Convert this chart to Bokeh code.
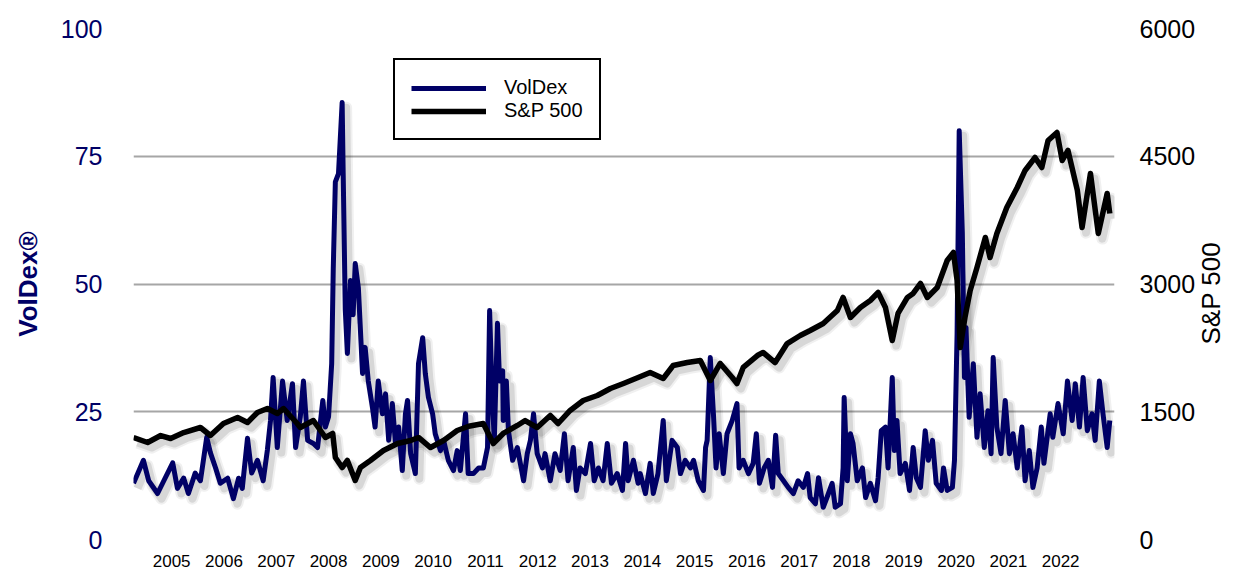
import numpy as np
from bokeh.plotting import figure
from bokeh.models import Range1d, LinearAxis, FixedTicker, Legend, LegendItem
from bokeh.embed import file_html
from bokeh.resources import INLINE

# ---------------- data ----------------
year_ticks = list(range(2005, 2023))
voldex_ticks = [0, 25, 50, 75, 100]
sp_ticks = [0, 1500, 3000, 4500, 6000]

voldex_t = [
    2004.27, 2004.46, 2004.56, 2004.73, 2004.85,
    2005.02, 2005.11, 2005.23, 2005.32, 2005.45, 2005.55, 2005.67, 2005.74, 2005.84, 2005.93,
    2006.07, 2006.18, 2006.28, 2006.35, 2006.45, 2006.53, 2006.64, 2006.75, 2006.83, 2006.89, 2006.94,
    2007.02, 2007.12, 2007.21, 2007.31, 2007.37, 2007.46, 2007.52, 2007.60, 2007.71, 2007.79, 2007.89, 2007.94,
    2008.00, 2008.06, 2008.09, 2008.13, 2008.19, 2008.26, 2008.28, 2008.32, 2008.36, 2008.42, 2008.47, 2008.51,
    2008.57, 2008.65, 2008.70, 2008.76, 2008.84, 2008.89, 2008.95,
    2009.03, 2009.09, 2009.15, 2009.22, 2009.28, 2009.34, 2009.41, 2009.47, 2009.51, 2009.57, 2009.66, 2009.72,
    2009.80, 2009.85, 2009.91, 2009.99,
    2010.04, 2010.14, 2010.20, 2010.29, 2010.39, 2010.46, 2010.52, 2010.62, 2010.67, 2010.77, 2010.87, 2010.96,
    2011.04, 2011.08, 2011.13, 2011.17, 2011.23, 2011.27, 2011.33, 2011.34, 2011.40, 2011.44, 2011.52, 2011.61,
    2011.73, 2011.80, 2011.86, 2011.92, 2011.99,
    2012.09, 2012.14, 2012.24, 2012.33, 2012.43, 2012.51, 2012.58, 2012.68, 2012.74, 2012.81, 2012.91,
    2013.01, 2013.08, 2013.16, 2013.25, 2013.33, 2013.41, 2013.52, 2013.62, 2013.68, 2013.73, 2013.83, 2013.92, 2013.96,
    2014.06, 2014.15, 2014.21, 2014.30, 2014.40, 2014.46, 2014.57, 2014.67, 2014.73, 2014.82, 2014.92, 2014.98,
    2015.07, 2015.17, 2015.21, 2015.24, 2015.30, 2015.36, 2015.41, 2015.47, 2015.55, 2015.62, 2015.72, 2015.81,
    2015.85, 2015.93,
    2016.03, 2016.12, 2016.18, 2016.24, 2016.33, 2016.41, 2016.49, 2016.55, 2016.60, 2016.70, 2016.79, 2016.89, 2016.98,
    2017.08, 2017.16, 2017.21, 2017.31, 2017.37, 2017.46, 2017.56, 2017.63, 2017.69, 2017.79, 2017.84, 2017.86,
    2017.92, 2017.98,
    2018.03, 2018.11, 2018.21, 2018.27, 2018.36, 2018.46, 2018.51, 2018.57, 2018.65, 2018.70, 2018.78, 2018.82,
    2018.87, 2018.93,
    2019.03, 2019.11, 2019.18, 2019.24, 2019.32, 2019.41, 2019.47, 2019.55, 2019.62, 2019.72, 2019.76, 2019.83,
    2019.93, 2019.97,
    2020.02, 2020.06, 2020.12, 2020.16, 2020.19, 2020.25, 2020.33, 2020.40, 2020.46, 2020.54, 2020.61, 2020.67,
    2020.71, 2020.78, 2020.86, 2020.94,
    2021.02, 2021.09, 2021.17, 2021.26, 2021.32, 2021.40, 2021.47, 2021.55, 2021.63, 2021.68, 2021.80, 2021.85, 2021.95,
    2022.05, 2022.13, 2022.22, 2022.28, 2022.36, 2022.43, 2022.51, 2022.60, 2022.66, 2022.74, 2022.81, 2022.89, 2022.94,
]
voldex_v = [
    11, 15.5, 11.5, 9, 11.5,
    15, 10, 12, 9, 13, 11.5, 20, 17, 14, 11,
    12, 8, 12, 10, 19.8, 13, 15.5, 11.5, 17.5, 23.3, 31.7,
    18, 31, 23.3, 30.5, 18, 24, 31, 19.4, 18.8, 18, 27.2, 22,
    24, 34.4, 53, 70, 71.6, 85.5, 71.6, 45, 36.4, 50.7, 44, 54,
    49.3, 32.5, 37.6, 31, 25.8, 22, 31,
    24.6, 28.5, 19.4, 26.6, 18.8, 22, 13.5, 24.6, 27.2, 16.8, 12.9, 34.4,
    39.5, 32.5, 27.8, 24.6,
    20.7, 17.4, 19.4, 15.5, 13.5, 17.4, 13.5, 24.6, 12.9, 12.9, 14, 14,
    18, 44.8, 27.8, 19.4, 42.3, 31, 33, 23.3, 31, 21.3, 15.5, 18,
    11.5, 16.8, 19.4, 24.6, 16.8,
    14, 16.8, 11.5, 16.8, 13.5, 20.7, 11.5, 18, 9.6, 14, 12.9,
    18.8, 11.5, 14, 11.5, 18.8, 11, 12.9, 9.6, 18.8, 11.5, 15.5, 11, 12.9,
    9, 14.9, 9, 12.9, 23.3, 11.5, 19.4, 18, 12.9, 15.5, 14, 15.5,
    11.5, 9.6, 18, 19.4, 35.6, 24.6, 14, 20.7, 12.9, 20.7, 23.3, 26.6,
    14, 15.5,
    12.9, 14.9, 20.7, 11, 14, 15.5, 10.2, 20.4, 12.9, 11.5, 10.2, 9, 11.5,
    10.2, 12.9, 8.2, 7, 12.1, 6.3, 9, 11, 6.3, 7, 14, 27.8,
    11.5, 20.7,
    18.8, 11.5, 14, 8.2, 11, 7.6, 12.1, 21.3, 22, 14, 31.7, 17.4,
    23.3, 12.9,
    14.9, 9.6, 18, 12.1, 10.2, 21.3, 15.5, 19.4, 11, 9.6, 14, 9.6,
    10.2, 15.5,
    40.3, 80, 59.9, 31.7, 41.5, 23.9, 34.4, 20, 28.5, 18, 25.2, 16.8,
    35.6, 22, 16.8, 27.2,
    16.8, 20.7, 14, 22, 11.5, 17.4, 10.2, 14, 22, 14.9, 24.6, 20, 26.6,
    20.7, 31, 23.3, 30.5, 22, 31.7, 21.3, 24.6, 19.4, 31, 24.6, 18, 23.3,
]

sp_t = [
    2004.27, 2004.54, 2004.79, 2004.98, 2005.23, 2005.55, 2005.74, 2005.99, 2006.26, 2006.45,
    2006.64, 2006.83, 2007.02, 2007.14, 2007.40, 2007.46, 2007.71, 2007.94, 2008.08, 2008.13,
    2008.26, 2008.36, 2008.51, 2008.61, 2008.80, 2009.05, 2009.32, 2009.57, 2009.72, 2009.95,
    2010.20, 2010.46, 2010.68, 2010.96, 2011.15, 2011.34, 2011.61, 2011.76, 2011.99, 2012.24,
    2012.39, 2012.62, 2012.87, 2013.14, 2013.39, 2013.64, 2013.92, 2014.15, 2014.40, 2014.59,
    2014.86, 2015.11, 2015.30, 2015.49, 2015.72, 2015.81, 2015.93, 2016.20, 2016.31, 2016.54,
    2016.77, 2017.02, 2017.21, 2017.46, 2017.73, 2017.84, 2017.98, 2018.17, 2018.36, 2018.51,
    2018.65, 2018.78, 2018.89, 2019.07, 2019.18, 2019.32, 2019.45, 2019.64, 2019.83, 2019.95,
    2020.02, 2020.08, 2020.17, 2020.27, 2020.40, 2020.56, 2020.65, 2020.78, 2020.97, 2021.17,
    2021.32, 2021.51, 2021.64, 2021.76, 2021.93, 2022.03, 2022.14, 2022.32, 2022.41, 2022.57,
    2022.72, 2022.89, 2022.94,
]
sp_v = [
    1198, 1139, 1221, 1186, 1256, 1315, 1221, 1362, 1433, 1374,
    1491, 1538, 1479, 1538, 1362, 1315, 1397, 1198, 1245, 963,
    845, 928, 693, 845, 928, 1045, 1127, 1162, 1198, 1080,
    1162, 1280, 1330, 1362, 1127, 1245, 1339, 1397, 1315, 1456,
    1362, 1515, 1632, 1691, 1773, 1832, 1902, 1961, 1890, 2043,
    2078, 2102, 1867, 2067, 1902, 1832, 2020, 2160, 2196, 2078,
    2301, 2395, 2454, 2536, 2689, 2842, 2607, 2724, 2806, 2900,
    2724, 2337, 2654, 2842, 2889, 3006, 2842, 2959, 3276, 3370,
    3041, 2254, 2607, 2924, 3194, 3546, 3311, 3593, 3898, 4133,
    4333, 4485, 4368, 4685, 4779, 4450, 4568, 4098, 3663, 4298,
    3593, 4063, 3828,
]

# ---------------- figure ----------------
NAVY = "#000066"
FONT = "Liberation Sans"
X0, X1 = 2004.27, 2023.03
PX_PER_YEAR = 52.3

p = figure(width=1244, height=569, output_backend="svg", toolbar_location=None,
           x_range=Range1d(X0, X1), y_range=Range1d(0, 100),
           min_border_left=133, min_border_right=130, min_border_top=28, min_border_bottom=30,
           background_fill_color="white", border_fill_color="white")
p.extra_y_ranges = {"sp": Range1d(0, 6000)}
p.outline_line_color = None
p.xgrid.visible = False
p.ygrid.grid_line_color = "#a6a6a6"
p.ygrid.grid_line_width = 2

# left axis
ya = p.yaxis[0]
ya.ticker = FixedTicker(ticks=voldex_ticks)
ya.axis_line_color = None
ya.major_tick_line_color = None
ya.minor_tick_line_color = None
ya.major_label_text_color = NAVY
ya.major_label_text_font = FONT
ya.major_label_text_font_size = "25px"
ya.major_label_standoff = 25
ya.axis_label = "VolDex®"
ya.axis_label_text_font = FONT
ya.axis_label_text_font_size = "26px"
ya.axis_label_text_font_style = "bold"
ya.axis_label_text_color = NAVY
ya.axis_label_standoff = 15

# bottom axis
xa = p.xaxis[0]
xa.ticker = FixedTicker(ticks=year_ticks)
xa.axis_line_color = None
xa.major_tick_line_color = None
xa.minor_tick_line_color = None
xa.major_label_text_color = "black"
xa.major_label_text_font = FONT
xa.major_label_text_font_size = "17px"
xa.major_label_standoff = 9

# right axis (title reads bottom-to-top; anchored at the axis start and
# pushed up with non-breaking spaces so it sits where the reference has it)
ra = LinearAxis(y_range_name="sp", ticker=FixedTicker(ticks=sp_ticks))
ra.axis_line_color = None
ra.major_tick_line_color = None
ra.minor_tick_line_color = None
ra.major_label_text_color = "black"
ra.major_label_text_font = FONT
ra.major_label_text_font_size = "25px"
ra.major_label_standoff = 19
ra.axis_label_text_font = FONT
ra.axis_label_text_font_size = "26px"
ra.axis_label_text_font_style = "normal"
ra.axis_label_text_color = "black"
ra.axis_label_standoff = 13
props = ra.properties()
if "axis_label_orientation" in props and "axis_label_align" in props:
    ra.axis_label_orientation = np.pi / 2
    ra.axis_label_align = "start"
    ra.axis_label = "\u00a0" * 27 + "S&P 500"
else:
    ra.axis_label = "S&P 500"
p.add_layout(ra, "right")

# shadows (styling only: same data, shifted a few pixels)
dx = 4 / PX_PER_YEAR
vt = np.array(voldex_t) + dx
vv = np.array(voldex_v) - 1.0
st = np.array(sp_t) + dx
sv = np.array(sp_v) - 60.0
for w, a in ((12, 0.06), (8, 0.10)):
    p.line(vt, vv, line_color="black", line_alpha=a, line_width=w, line_join="round")
    p.line(st, sv, line_color="black", line_alpha=a, line_width=w, line_join="round", y_range_name="sp")

r_vol = p.line(voldex_t, voldex_v, line_color=NAVY, line_width=5, line_join="round")
r_sp = p.line(sp_t, sp_v, line_color="black", line_width=5.5, line_join="round", y_range_name="sp")

legend = Legend(items=[LegendItem(label="VolDex", renderers=[r_vol]),
                       LegendItem(label="S&P 500", renderers=[r_sp])],
                location=(260, 399), orientation="vertical",
                border_line_color="black", border_line_width=2, border_line_alpha=1,
                background_fill_color="white", background_fill_alpha=1,
                padding=16, spacing=0, margin=0,
                glyph_width=75, glyph_height=20, label_height=20,
                label_standoff=18, label_text_font=FONT, label_text_font_size="20px",
                label_text_color="black")
p.add_layout(legend, "center")

open("out.html", "w").write(file_html(p, INLINE))
